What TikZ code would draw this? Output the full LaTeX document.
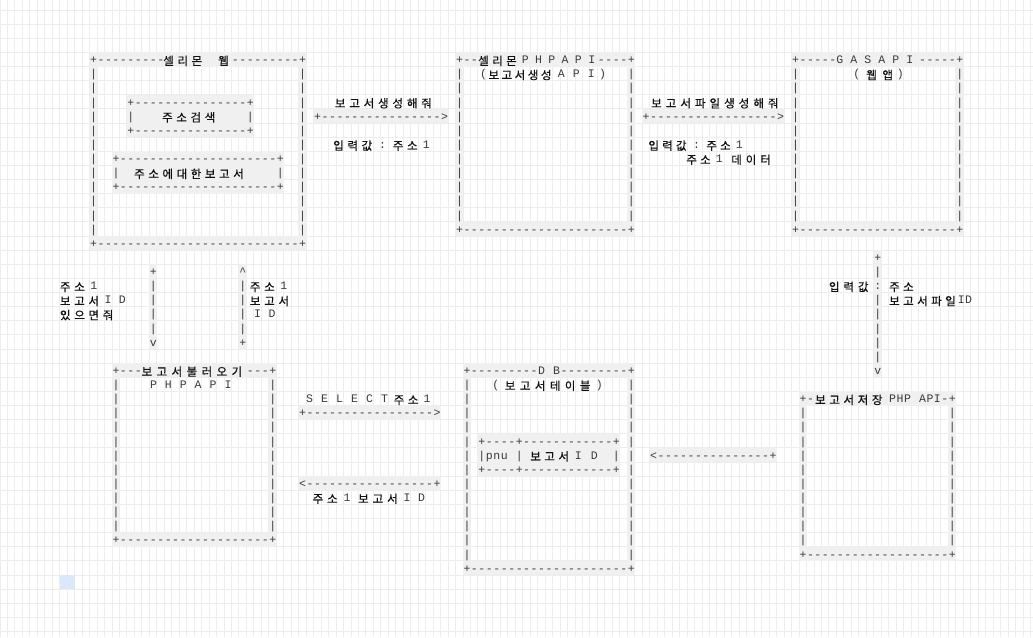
\documentclass[tikz,border=0pt]{standalone}
\usepackage{fontspec}
\setmainfont{Liberation Serif}
\newfontfamily\monof{Liberation Mono}
\newfontfamily\korf[FakeBold=0.5]{Noto Sans CJK KR}
\definecolor{gridc}{HTML}{EDEDED}
\definecolor{bandc}{HTML}{F0F0F0}
\definecolor{bluec}{HTML}{DAE8FC}
\definecolor{inkc}{HTML}{3A3A3A}
\definecolor{korc}{HTML}{111111}
\makeatletter
\newcommand\asc[1]{{\monof\fontsize{11.5pt}{14pt}\selectfont\@tfor\xx:=#1\do{\makebox[7.468pt][c]{\xx}}}}
\newcommand\wid[2][14.2pt]{{\monof\fontsize{11.5pt}{14pt}\selectfont\@tfor\xx:=#2\do{\makebox[#1][c]{\xx}}}}
\newcommand\kor[2][14.2pt]{{\korf\color{korc}\fontsize{11.5pt}{14pt}\selectfont\@tfor\xx:=#2\do{\makebox[#1][c]{\raisebox{-1.5pt}{\xx}}}}}
\makeatother
\newcommand\dsh[1]{{\monof\fontsize{11.5pt}{14pt}\selectfont\foreach\q in {1,...,#1}{\makebox[7.468pt][c]{-}}}}
\newcommand\gb[4]{\fill[bandc] (#1,#2) rectangle ({#3+1},{#4+1});}
\begin{document}
\begin{tikzpicture}[x=7.468pt,y=-14.125pt,tx/.style={anchor=base west,inner sep=0pt,text=inkc}]
\useasboundingbox (0,-0.708) rectangle (138.3235,44.389);
\fill[white] (0,-0.708) rectangle (138.3235,44.389);
\foreach \i in {0,...,138} \draw[gridc,line width=1pt] (\i,-0.708) -- (\i,44.389);
\foreach \j in {0,...,44} \draw[gridc,line width=1pt] (0,\j) -- (138.3235,\j);
% grey bands
\gb{12}{3}{40}{3} \gb{12}{4}{12}{15} \gb{40}{4}{40}{15} \gb{12}{16}{40}{16}
\gb{17}{6}{33}{8} \gb{15}{10}{37}{12}
\gb{42}{7}{59}{7}
\gb{61}{3}{84}{3} \gb{61}{4}{61}{14} \gb{84}{4}{84}{14} \gb{61}{15}{84}{15}
\gb{86}{7}{104}{7}
\gb{106}{3}{128}{3} \gb{106}{4}{106}{14} \gb{128}{4}{128}{14} \gb{106}{15}{128}{15}
\gb{117}{17}{117}{25}
\gb{20}{18}{20}{23} \gb{32}{18}{32}{23}
\gb{15}{25}{36}{25} \gb{15}{26}{15}{36} \gb{36}{26}{36}{36} \gb{15}{37}{36}{37}
\gb{40}{28}{58}{28} \gb{40}{33}{58}{33}
\gb{62}{25}{84}{25} \gb{62}{26}{62}{38} \gb{84}{26}{84}{38} \gb{62}{39}{84}{39} \gb{64}{30}{82}{32}
\gb{87}{31}{103}{31}
\gb{107}{27}{127}{27} \gb{107}{28}{107}{37} \gb{127}{28}{127}{37} \gb{107}{38}{127}{38}
\fill[bluec] (8,40) rectangle (10,41);
% block A
\node[tx] (a0) at (12,3.8) {\asc{+---------}};
\node[tx] (a1) at (21.59,3.8) {\kor{셀리몬}};
\node[tx] (a2) at (28.95,3.8) {\kor{웹}};
\node[tx] (a3) at (31,3.8) {\asc{---------+}};
\foreach \r in {4,...,15} {\node[tx] (apl\r) at (12,\r+0.8) {\asc{|}}; \node[tx] (apr\r) at (40,\r+0.8) {\asc{|}};}
\node[tx] (a4) at (12,16.8) {\asc{+}\dsh{27}\asc{+}};
\node[tx] (s0) at (17,6.8) {\asc{+}\dsh{15}\asc{+}};
\node[tx] (s1) at (17,7.8) {\asc{|}};
\node[tx] (s2) at (21.45,7.8) {\kor{주소검색}};
\node[tx] (s3) at (33,7.8) {\asc{|}};
\node[tx] (s4) at (17,8.8) {\asc{+}\dsh{15}\asc{+}};
\node[tx] (r0) at (15,10.8) {\asc{+}\dsh{21}\asc{+}};
\node[tx] (r1) at (15,11.8) {\asc{|}};
\node[tx] (r2) at (17.70,11.8) {\kor[14.15pt]{주소에대한보고서}};
\node[tx] (r3) at (37,11.8) {\asc{|}};
\node[tx] (r4) at (15,12.8) {\asc{+}\dsh{21}\asc{+}};
% arrow 1
\node[tx] (m0) at (44.56,6.8) {\kor[14.4pt]{보고서생성해줘}};
\node[tx] (m1) at (42,7.8) {\asc{+}\dsh{16}\asc{>}};
\node[tx] (m2) at (44.35,9.8) {\kor{입력값}\wid[17pt]{:}\kor{주소}\wid[14pt]{1}};
% block B
\node[tx] (b0) at (61,3.8) {\asc{+--}};
\node[tx] (b1) at (63.78,3.8) {\kor[14pt]{셀리몬}};
\node[tx] (b2) at (69.41,3.8) {\wid[13.3pt]{PHPAPI}};
\node[tx] (b3) at (80,3.8) {\asc{----+}};
\node[tx] (b4) at (64.22,4.8) {\asc{(}\kor[13.1pt]{보고서생성}\hspace{1pt}\wid[15pt]{API}\asc{)}};
\foreach \r in {4,...,14} {\node[tx] (bpl\r) at (61,\r+0.8) {\asc{|}}; \node[tx] (bpr\r) at (84,\r+0.8) {\asc{|}};}
\node[tx] (b5) at (61,15.8) {\asc{+}\dsh{22}\asc{+}};
% arrow 2
\node[tx] (n0) at (86.90,6.8) {\kor[14.6pt]{보고서파일생성해줘}};
\node[tx] (n1) at (86,7.8) {\asc{+}\dsh{17}\asc{>}};
\node[tx] (n2) at (86.58,9.8) {\kor[13.8pt]{입력값}\wid[16.6pt]{:}\kor[13.8pt]{주소}\wid[14pt]{1}};
\node[tx] (n3) at (91.66,10.8) {\kor[13.8pt]{주소}\wid[14pt]{1}\hspace{3pt}\kor[14.5pt]{데이터}};
% block C
\node[tx] (c0) at (106,3.8) {\asc{+-----}};
\node[tx] (c1) at (111.48,3.8) {\wid[14pt]{GASAPI}};
\node[tx] (c2) at (123,3.8) {\asc{-----+}};
\node[tx] (c3) at (114.22,4.8) {\asc{(}\hspace{3pt}\kor[16pt]{웹앱}\hspace{1pt}\asc{)}};
\foreach \r in {4,...,14} {\node[tx] (cpl\r) at (106,\r+0.8) {\asc{|}}; \node[tx] (cpr\r) at (128,\r+0.8) {\asc{|}};}
\node[tx] (c4) at (106,15.8) {\asc{+}\dsh{21}\asc{+}};
% right vertical arrow
\node[tx] (v0) at (117,17.8) {\asc{+}};
\node[tx] (v1) at (117,18.8) {\asc{|}};
\node[tx] (v2) at (117,19.8) {\asc{:}};
\foreach \r in {20,...,24} {\node[tx] (vp\r) at (117,\r+0.8) {\asc{|}};}
\node[tx] (v3) at (117,25.8) {\asc{v}};
\node[tx] (v4) at (110.71,19.8) {\kor[14.5pt]{입력값}};
\node[tx] (v5) at (118.81,19.8) {\kor[14pt]{주소}};
\node[tx] (v6) at (118.81,20.8) {\kor[14pt]{보고서파일}\asc{ID}};
% left vertical arrows
\node[tx] (w0) at (20,18.8) {\asc{+}};
\node[tx] (x0) at (32,18.8) {\asc{\textasciicircum}};
\foreach \r in {19,...,22} {\node[tx] (wp\r) at (20,\r+0.8) {\asc{|}}; \node[tx] (xp\r) at (32,\r+0.8) {\asc{|}};}
\node[tx] (w1) at (20,23.8) {\asc{v}};
\node[tx] (x1) at (32,23.8) {\asc{+}};
\node[tx] (w2) at (7.753,19.8) {\kor[14.3pt]{주소}\wid[14.3pt]{1}};
\node[tx] (w3) at (7.753,20.8) {\kor[14.3pt]{보고서}\wid[14.3pt]{ID}};
\node[tx] (w4) at (7.753,21.8) {\kor[14.3pt]{있으면줘}};
\node[tx] (x2) at (33.19,19.8) {\kor[14.3pt]{주소}\wid[14.3pt]{1}};
\node[tx] (x3) at (33.19,20.8) {\kor[14.3pt]{보고서}};
\node[tx] (x4) at (33.48,21.8) {\wid[14.5pt]{ID}};
% block L
\node[tx] (l0) at (15,25.8) {\asc{+---}};
\node[tx] (l1) at (18.64,25.8) {\kor[15pt]{보고서불러오기}};
\node[tx] (l2) at (33,25.8) {\asc{---+}};
\node[tx] (l3) at (19.53,26.8) {\wid[14.9pt]{PHPAPI}};
\foreach \r in {26,...,36} {\node[tx] (lpl\r) at (15,\r+0.8) {\asc{|}}; \node[tx] (lpr\r) at (36,\r+0.8) {\asc{|}};}
\node[tx] (l4) at (15,37.8) {\asc{+}\dsh{20}\asc{+}};
% select arrows
\node[tx] (q0) at (40.41,27.8) {\wid[15pt]{SELECT}\kor[14.1pt]{주소}\wid[14pt]{1}};
\node[tx] (q1) at (40,28.8) {\asc{+}\dsh{17}\asc{>}};
\node[tx] (q2) at (40,33.8) {\asc{<}\dsh{17}\asc{+}};
\node[tx] (q3) at (41.58,34.8) {\kor[14.5pt]{주소}\wid[14.5pt]{1}\hspace{2pt}\kor[14.5pt]{보고서}\wid[14.5pt]{ID}};
% block DB
\node[tx] (d0) at (62,25.8) {\asc{+}\dsh{9}\asc{D~B}\dsh{9}\asc{+}};
\node[tx] (d1) at (65.88,26.8) {\asc{(}\hspace{3pt}\kor[15pt]{보고서테이블}\hspace{3pt}\asc{)}};
\foreach \r in {26,...,38} {\node[tx] (dpl\r) at (62,\r+0.8) {\asc{|}}; \node[tx] (dpr\r) at (84,\r+0.8) {\asc{|}};}
\node[tx] (d2) at (62,39.8) {\asc{+}\dsh{21}\asc{+}};
\node[tx] (t0) at (64,30.8) {\asc{+}\dsh{4}\asc{+}\dsh{12}\asc{+}};
\node[tx] (t1) at (64,31.8) {\asc{|pnu~|}};
\node[tx] (t2) at (70.74,31.8) {\kor[14.1pt]{보고서}};
\node[tx] (t3) at (76.35,31.8) {\wid[15.9pt]{ID}};
\node[tx] (t4) at (82,31.8) {\asc{|}};
\node[tx] (t5) at (64,32.8) {\asc{+}\dsh{4}\asc{+}\dsh{12}\asc{+}};
% arrow D -> DB
\node[tx] (y0) at (87,31.8) {\asc{<}\dsh{15}\asc{+}};
% block D
\node[tx] (e0) at (107,27.8) {\asc{+-}};
\node[tx] (e1) at (108.88,27.8) {\kor[14.2pt]{보고서저장}};
\node[tx] (e2) at (119,27.8) {\asc{PHP~API-+}};
\foreach \r in {28,...,37} {\node[tx] (epl\r) at (107,\r+0.8) {\asc{|}}; \node[tx] (epr\r) at (127,\r+0.8) {\asc{|}};}
\node[tx] (e3) at (107,38.8) {\asc{+}\dsh{19}\asc{+}};
\end{tikzpicture}
\end{document}
